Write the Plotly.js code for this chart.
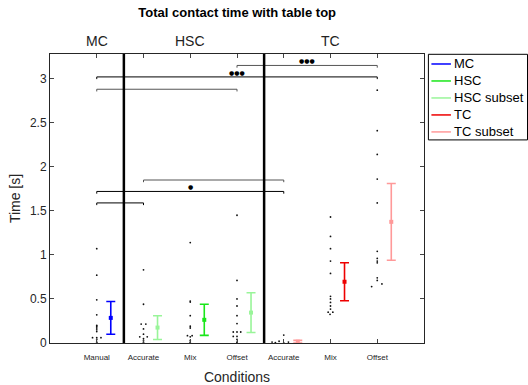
<!DOCTYPE html>
<html><head><meta charset="utf-8">
<script src="https://cdn.plot.ly/plotly-3.0.1.min.js"></script>
<style>html,body{margin:0;padding:0;background:#fff}</style>
</head><body><div id="chart" style="width:528px;height:385px"></div>
<script>
// ---- categories / ticks ----
const tickLabels = ['Manual','Accurate','Mix','Offset','Accurate','Mix','Offset'];
const tickPos = [1,2,3,4,5,6,7];
const groupNames = ['MC','HSC','TC'];
const groupCenters = [1,3,6];
const groupBounds = [1.58,4.58];

// ---- individual trials (black dots) ----
const manualX = [1,1,1,1,1,1,1,1,1,0.91,1.09,1,1,1,1];
const manualY = [1.07,0.77,0.49,0.32,0.2,0.19,0.17,0.15,0.13,0.06,0.06,0.06,0.04,0.01,0.0];
const hscAccX = [2,2,1.95,2.05,2,2,1.92,2.08,2,2,2,2];
const hscAccY = [0.83,0.44,0.215,0.215,0.16,0.10,0.07,0.07,0.05,0.03,0.01,0.0];
const hscMixX = [3,3,3,3,3,3,2.94,3.04,3,3,3,3];
const hscMixY = [1.14,0.476,0.465,0.31,0.19,0.17,0.083,0.083,0.07,0.03,0.01,0.0];
const hscOffX = [4,4,4,4,4,4,3.92,4,4.08,3.92,4,4,4,4];
const hscOffY = [1.45,0.71,0.50,0.42,0.31,0.22,0.125,0.125,0.125,0.075,0.075,0.04,0.01,0.0];
const tcAccX = [5,4.9,4.75,4.82,5,5.1];
const tcAccY = [0.09,0.02,0.01,0.005,0.0,0.01];
const tcMixX = [6,6,6,6,6,6,6,6,6,6,5.95,6.05,5.99];
const tcMixY = [1.43,1.21,1.07,0.93,0.79,0.53,0.5,0.46,0.42,0.385,0.35,0.35,0.325];
const tcOffX = [7,7,7,7,7,7,7,7,7,7,7,7.1,6.88];
const tcOffY = [2.87,2.41,2.14,1.86,1.59,1.04,0.96,0.93,0.91,0.74,0.71,0.67,0.64];

// ---- summary series (mean ± error) ----
const seriesNames = ['MC','HSC','HSC subset','TC','TC subset'];
const seriesColors = ['#0000ff','#19e619','#99f599','#ee0000','#ff9999'];
const seriesX = [[1.3],[3.3],[2.3,4.3],[6.3],[5.3,7.3]];
const seriesMean = [[0.285],[0.263],[0.175,0.345],[0.695],[0.015,1.375]];
const seriesErr = [[0.186],[0.177],[0.135,0.225],[0.215],[0.015,0.435]];

// ---- significance brackets ----
const sigX1 = [1,4,1,2,1,1];
const sigX2 = [7,7,4,5,5,2];
const sigY = [3.02,3.15,2.88,1.85,1.72,1.59];
const sigColor = ['#000000','#555555','#555555','#555555','#000000','#000000'];
const starText = ['●●●','●●●','●'];
const starX = [4,5.5,3];
const starY = [3.02,3.15,1.72];

const traces = [];
const dotSets = [[manualX,manualY],[hscAccX,hscAccY],[hscMixX,hscMixY],[hscOffX,hscOffY],[tcAccX,tcAccY],[tcMixX,tcMixY],[tcOffX,tcOffY]];
dotSets.forEach(d => traces.push({
  type:'scatter', mode:'markers', x:d[0], y:d[1], showlegend:false, hoverinfo:'skip',
  marker:{color:'#111', size:1.8}
}));
for (let i=0;i<sigY.length;i++){
  traces.push({type:'scatter', mode:'lines', showlegend:false, hoverinfo:'skip',
    x:[sigX1[i],sigX1[i],sigX2[i],sigX2[i]], y:[sigY[i]-0.025,sigY[i],sigY[i],sigY[i]-0.025],
    line:{color:sigColor[i], width:1}});
}
seriesNames.forEach((n,i) => traces.push({
  type:'scatter', mode:'markers', name:n, x:seriesX[i], y:seriesMean[i], showlegend:false,
  marker:{color:seriesColors[i], size:4, symbol:'square'},
  error_y:{type:'data', array:seriesErr[i], visible:true, color:seriesColors[i], thickness:1.6, width:4.5}
}));

const L=50, R=423.6, T=54, B=343.3;
const fx = px => (px-L)/(R-L);
const fy = py => (B-py)/(B-T);

const shapes = groupBounds.map(x => ({type:'line', xref:'x', yref:'paper', x0:x, x1:x, y0:0, y1:1, line:{color:'#000', width:2.5}}));
const annotations = [];
groupNames.forEach((g,i) => annotations.push({xref:'x', yref:'paper', x:groupCenters[i], y:fy(41), text:g, showarrow:false, font:{size:14, color:'#222'}, xanchor:'center', yanchor:'middle'}));
starText.forEach((s,i) => annotations.push({xref:'x', yref:'y', x:starX[i], y:starY[i], text:s, showarrow:false, font:{size:6, color:'#000', family:'DejaVu Sans'}, xanchor:'center', yanchor:'bottom', yshift:-1}));

// legend (drawn manually to match placement)
shapes.push({type:'rect', xref:'paper', yref:'paper', x0:fx(428), x1:fx(527), y0:fy(54.3), y1:fy(140), line:{color:'#000', width:1}, fillcolor:'#fff'});
const rowY = [64, 81, 98, 115, 132];
seriesNames.forEach((n,i) => {
  shapes.push({type:'line', xref:'paper', yref:'paper', x0:fx(431), x1:fx(450.5), y0:fy(rowY[i]), y1:fy(rowY[i]), line:{color:seriesColors[i], width:1.5}});
  annotations.push({xref:'paper', yref:'paper', x:fx(452), y:fy(rowY[i]), text:n, showarrow:false, xanchor:'left', yanchor:'middle', font:{size:13, color:'#000'}});
});

const layout = {
  width:528, height:385, margin:{l:50, r:104, t:54, b:42},
  paper_bgcolor:'#fff', plot_bgcolor:'#fff',
  font:{family:'Liberation Sans, Arial, sans-serif', color:'#262626'},
  title:{text:'<b>Total contact time with table top</b>', font:{size:13, color:'#000'}, x:fx(237), xref:'paper', y:1-12/385, yanchor:'middle'},
  xaxis:{range:[0,8], tickvals:tickPos, ticktext:tickLabels, ticks:'inside', ticklen:4, mirror:'ticks', showline:true, linecolor:'#262626', linewidth:1, showgrid:false, zeroline:false, tickfont:{size:8, color:'#262626'}, ticklabelstandoff:6, title:{text:'Conditions', font:{size:14, color:'#262626'}, standoff:14}},
  yaxis:{range:[0,3.28], dtick:0.5, ticks:'inside', ticklen:4, mirror:'ticks', showline:true, linecolor:'#262626', linewidth:1, showgrid:false, zeroline:false, tickfont:{size:12, color:'#262626'}, title:{text:'Time [s]', font:{size:14, color:'#262626'}, standoff:6}},
  showlegend:false, shapes:shapes, annotations:annotations
};
Plotly.newPlot('chart', traces, layout, {staticPlot:true});
</script></body></html>
